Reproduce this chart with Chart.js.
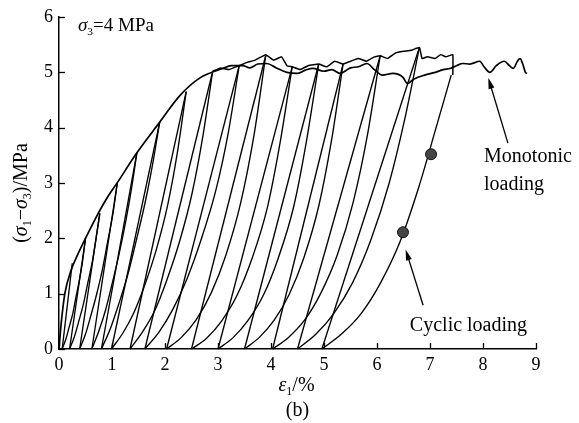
<!DOCTYPE html>
<html><head><meta charset="utf-8">
<style>html,body{margin:0;padding:0;background:#fff;}#wrap{width:579px;height:423px;}</style>
<script src="https://cdn.jsdelivr.net/npm/chart.js@4.4.1/dist/chart.umd.min.js"></script>
</head><body><div id="wrap"><canvas id="c" width="579" height="423"></canvas></div>
<script>
// ---------- data ----------
const xTicks = [0,1,2,3,4,5,6,7,8,9];
const yTicks = [0,1,2,3,4,5,6];

// monotonic loading curve
const monoStrain = [0,0.04,0.11,0.22,0.35,0.5,0.7,0.9,1.11,1.45,1.9,2.28,2.66,3.09,3.25,3.47,3.6,3.75,3.92,4.1,4.3,4.49,4.65,4.79,5.0,5.15,5.3,5.5,5.65,5.81,5.95,6.1,6.3,6.49,6.57,6.7,6.9,7.1,7.25,7.38,7.5,7.62,7.75,7.94,8.02,8.13,8.25,8.4,8.5,8.57,8.65,8.7,8.75,8.8,8.83];
const monoStress = [0,0.45,1.0,1.4,1.7,2.0,2.38,2.72,3.02,3.52,4.1,4.58,4.9,5.07,5.12,5.12,5.08,5.15,5.16,5.08,5.0,4.98,5.04,5.07,5.02,5.05,4.98,5.08,5.1,5.16,5.05,4.95,4.98,4.91,4.8,4.88,4.95,5.0,5.05,5.07,5.12,5.16,5.15,5.2,5.1,5.0,5.12,5.2,5.12,5.07,5.2,5.25,5.15,5.0,4.98];

// cyclic loading: unloading peaks and residual strains
const peakStrain = [0.25,0.5,0.77,1.1,1.47,1.9,2.4,2.9,3.4,3.9,4.4,4.9,5.36,6.06,6.8];
const peakStress = [1.55,2.0,2.45,3.0,3.55,4.1,4.65,5.02,5.12,5.3,5.1,5.15,5.15,5.3,5.45];
const residualStrain = [0.06,0.2,0.39,0.62,0.8,0.99,1.34,1.62,2.03,2.5,3.0,3.5,4.03,4.5,4.96];

// reloading branches [strain, stress]
const reload01 = [[0.06,0],[0.13,0.18],[0.19,0.39],[0.26,0.64],[0.32,0.94],[0.39,1.27],[0.45,1.62],[0.5,2.0]];
const reload02 = [[0.2,0],[0.29,0.22],[0.37,0.49],[0.46,0.81],[0.54,1.18],[0.63,1.59],[0.7,2.01],[0.77,2.45]];
const reload03 = [[0.39,0],[0.5,0.27],[0.6,0.6],[0.71,0.99],[0.82,1.44],[0.92,1.95],[1.02,2.46],[1.1,3.0]];
const reload04 = [[0.62,0],[0.75,0.32],[0.88,0.71],[1.0,1.17],[1.13,1.7],[1.26,2.31],[1.37,2.91],[1.47,3.55]];
const reload05 = [[0.8,0],[0.97,0.37],[1.13,0.82],[1.3,1.35],[1.46,1.97],[1.63,2.67],[1.77,3.36],[1.9,4.1]];
const reload06 = [[0.99,0],[1.2,0.28],[1.41,0.65],[1.62,1.16],[1.84,1.81],[2.05,2.6],[2.23,3.53],[2.4,4.65]];
const reload07 = [[1.34,0],[1.57,0.3],[1.81,0.7],[2.04,1.26],[2.28,1.96],[2.51,2.81],[2.71,3.82],[2.9,5.02]];
const reload08 = [[1.62,0],[1.89,0.31],[2.15,0.72],[2.42,1.28],[2.69,2.0],[2.96,2.87],[3.19,3.89],[3.4,5.12]];
const reload09 = [[2.03,0],[2.31,0.21],[2.59,0.53],[2.87,1.01],[3.15,1.7],[3.43,2.65],[3.68,3.87],[3.9,5.3]];
const reload10 = [[2.5,0],[2.79,0.2],[3.07,0.51],[3.36,0.97],[3.64,1.63],[3.93,2.55],[4.17,3.72],[4.4,5.1]];
const reload11 = [[3.0,0],[3.29,0.21],[3.57,0.52],[3.86,0.98],[4.14,1.65],[4.43,2.58],[4.67,3.76],[4.9,5.15]];
const reload12 = [[3.5,0],[3.78,0.21],[4.06,0.52],[4.34,0.98],[4.62,1.65],[4.9,2.58],[5.14,3.76],[5.36,5.15]];
const reload13 = [[4.03,0],[4.33,0.21],[4.64,0.53],[4.94,1.01],[5.25,1.7],[5.55,2.65],[5.82,3.87],[6.06,5.3]];
const reload14 = [[4.5,0],[4.85,0.27],[5.19,0.65],[5.54,1.2],[5.88,1.96],[6.23,3.0],[6.52,4.14],[6.8,5.45]];
const reload15 = [[4.96,0],[5.33,0.27],[5.7,0.64],[6.07,1.2],[6.44,1.95],[6.78,2.9],[7.1,3.95],[7.4,4.95]];

// jagged top of the cyclic test
const cycTopStrain = [2.9,3.05,3.2,3.4,3.55,3.7,3.9,4.05,4.2,4.3,4.4,4.55,4.7,4.9,5.05,5.2,5.36,5.5,5.65,5.8,5.95,6.06,6.2,6.35,6.5,6.65,6.8,6.85,6.95,7.1,7.2,7.3,7.43,7.43];
const cycTopStress = [5.02,5.08,5.05,5.12,5.18,5.22,5.32,5.22,5.28,5.12,5.1,5.05,5.12,5.15,5.1,5.2,5.15,5.2,5.25,5.2,5.28,5.3,5.25,5.35,5.38,5.4,5.45,5.25,5.28,5.25,5.32,5.28,5.32,4.95];

// marked points on the last cycle
const markStrain = [6.49,7.02];
const markStress = [2.11,3.52];

// ---------- chart ----------
const SERIF = "'Liberation Serif','Times New Roman',serif";
const reloads = [reload01,reload02,reload03,reload04,reload05,reload06,reload07,reload08,reload09,reload10,reload11,reload12,reload13,reload14,reload15];
const base = {borderColor:'#000', borderWidth:1.35, pointRadius:0, pointHoverRadius:0, showLine:true, fill:false, clip:6, order:1};
const datasets = [];
datasets.push({...base, data: markStrain.map((x,i)=>({x, y:markStress[i]})), showLine:false, pointRadius:5.5, backgroundColor:'#444', borderColor:'#111', borderWidth:1, order:0});
datasets.push({...base, borderWidth:1.7, cubicInterpolationMode:'monotone', data: monoStrain.map((x,i)=>({x, y:monoStress[i]}))});
datasets.push({...base, borderWidth:1.5, tension:0.1, data: cycTopStrain.map((x,i)=>({x, y:cycTopStress[i]}))});
reloads.forEach(r => datasets.push({...base, cubicInterpolationMode:'monotone', data: r.map(([x,y])=>({x,y}))}));
peakStrain.forEach((p,i) => datasets.push({...base, tension:0, data:[{x:p, y:peakStress[i]},{x:residualStrain[i], y:0}]}));

function richText(ctx, segs, x, y, size, align){
  const widths = segs.map(s => { ctx.font = (s[1]==='i'?'italic ':'') + (s[2]?size*0.6:size) + 'px ' + SERIF; return ctx.measureText(s[0]).width; });
  const total = widths.reduce((a,b)=>a+b,0);
  let cx = align==='center' ? x - total/2 : x;
  ctx.textBaseline = 'alphabetic'; ctx.textAlign = 'left';
  segs.forEach((s,i) => {
    ctx.font = (s[1]==='i'?'italic ':'') + (s[2]?size*0.6:size) + 'px ' + SERIF;
    ctx.fillText(s[0], cx, y + (s[2]? size*0.22 : 0));
    cx += widths[i];
  });
}
function arrow(ctx, x1, y1, x2, y2){
  const a = Math.atan2(y2-y1, x2-x1), L = 11, W = 3;
  ctx.beginPath(); ctx.moveTo(x1,y1); ctx.lineTo(x2 - L*0.7*Math.cos(a), y2 - L*0.7*Math.sin(a)); ctx.stroke();
  ctx.beginPath(); ctx.moveTo(x2,y2);
  ctx.lineTo(x2 - L*Math.cos(a) + W*Math.sin(a), y2 - L*Math.sin(a) - W*Math.cos(a));
  ctx.lineTo(x2 - L*Math.cos(a) - W*Math.sin(a), y2 - L*Math.sin(a) + W*Math.cos(a));
  ctx.closePath(); ctx.fill();
}

const decor = {
  id:'decor',
  afterDraw(chart){
    const {ctx, chartArea:ca, scales:{x, y}} = chart;
    ctx.save();
    ctx.strokeStyle = '#000'; ctx.fillStyle = '#000'; ctx.lineWidth = 1.3;
    xTicks.forEach(v => { const px = Math.round(x.getPixelForValue(v))+0.5; ctx.beginPath(); ctx.moveTo(px, ca.bottom); ctx.lineTo(px, ca.bottom-6); ctx.stroke(); });
    yTicks.forEach(v => { const py = Math.round(y.getPixelForValue(v))+0.5; ctx.beginPath(); ctx.moveTo(ca.left, py); ctx.lineTo(ca.left+6, py); ctx.stroke(); });
    richText(ctx, [['σ','i'],['3','n',true],['=4 MPa','n']], ca.left+19, ca.top+14, 19, 'left');
    richText(ctx, [['ε','i'],['1','n',true],['/%','n']], (ca.left+ca.right)/2 - 1, ca.bottom+42, 20, 'center');
    richText(ctx, [['(b)','n']], (ca.left+ca.right)/2, ca.bottom+67, 20, 'center');
    ctx.save(); ctx.translate(27, (ca.top+ca.bottom)/2 + 10); ctx.rotate(-Math.PI/2);
    richText(ctx, [['(','n'],['σ','i'],['1','n',true],['−','n'],['σ','i'],['3','n',true],[')/MPa','n']], 0, 0, 20, 'center');
    ctx.restore();
    ctx.lineWidth = 1.3;
    arrow(ctx, x.getPixelForValue(8.47), y.getPixelForValue(3.72), x.getPixelForValue(8.1), y.getPixelForValue(4.9));
    arrow(ctx, x.getPixelForValue(6.87), y.getPixelForValue(0.79), x.getPixelForValue(6.54), y.getPixelForValue(1.8));
    richText(ctx, [['Monotonic','n']], x.getPixelForValue(8.02), y.getPixelForValue(3.38), 20, 'left');
    richText(ctx, [['loading','n']], x.getPixelForValue(8.02), y.getPixelForValue(2.88), 20, 'left');
    richText(ctx, [['Cyclic loading','n']], x.getPixelForValue(6.62), y.getPixelForValue(0.33), 20, 'left');
    ctx.restore();
  }
};

new Chart(document.getElementById('c'), {
  type:'scatter',
  data:{datasets},
  options:{
    responsive:false, animation:false, devicePixelRatio:1,
    layout:{padding:{top:17, right:43, bottom:0, left:0}},
    plugins:{legend:{display:false}, tooltip:{enabled:false}},
    scales:{
      x:{type:'linear', min:0, max:9, afterBuildTicks: s => { s.ticks = xTicks.map(v=>({value:v})); },
         grid:{display:false, drawTicks:false}, border:{display:true, color:'#000', width:1.5},
         ticks:{color:'#000', padding:5, font:{family:SERIF, size:18}},
         afterFit: s => { s.height = 74; }},
      y:{type:'linear', min:0, max:6, afterBuildTicks: s => { s.ticks = yTicks.map(v=>({value:v})); },
         grid:{display:false, drawTicks:false}, border:{display:true, color:'#000', width:1.5},
         ticks:{color:'#000', padding:6, font:{family:SERIF, size:18}},
         afterFit: s => { s.width = 59; }}
    }
  },
  plugins:[decor]
});
</script></body></html>
